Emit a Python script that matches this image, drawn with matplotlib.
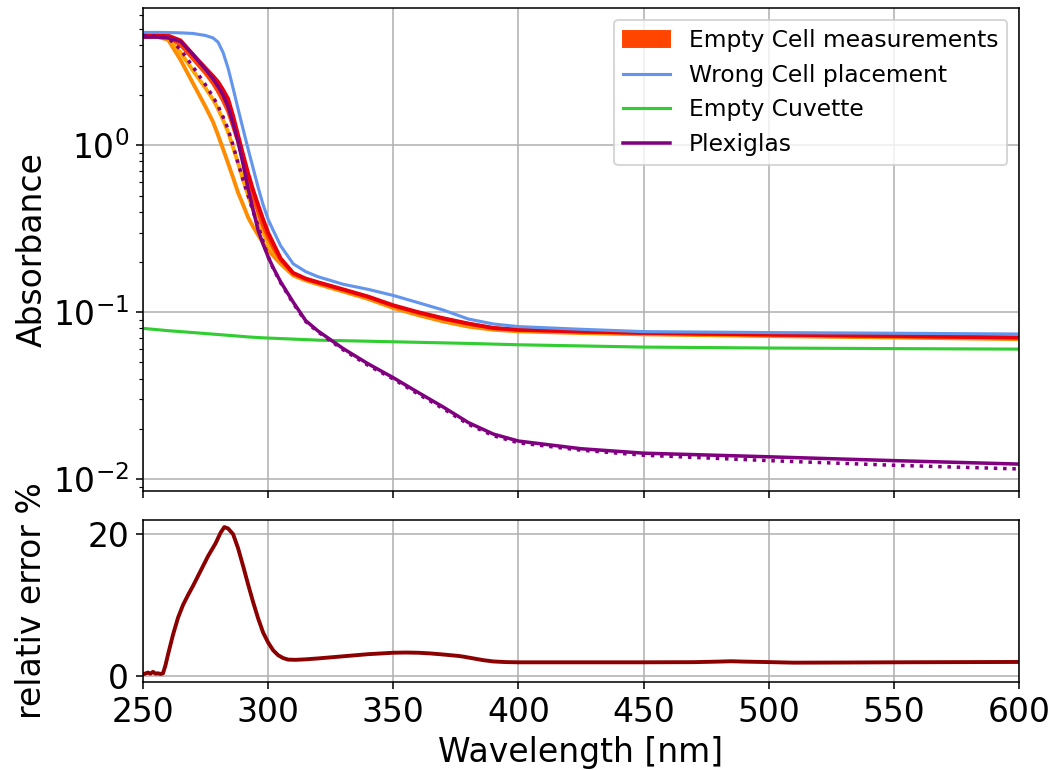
import matplotlib
matplotlib.use("Agg")
import matplotlib.pyplot as plt
from matplotlib.patches import Patch
from matplotlib.lines import Line2D

# Wavelength grid for absorbance spectra [nm]
wavelength = [250, 256, 260, 265, 270, 275, 278, 280, 282, 284, 286, 288, 290, 292, 294, 296, 298, 300,
              302, 305, 310, 315, 320, 330, 340, 350, 360, 370, 380, 390, 400, 425, 450, 500, 550, 600]

# Empty cell measurements (several repeats)
empty_cell_1 = [4.45, 4.45, 4.30, 3.25, 2.35, 1.70, 1.38, 1.15, 0.95, 0.78, 0.64, 0.52, 0.44, 0.37, 0.325, 0.29, 0.26, 0.235,
                0.218, 0.195, 0.166, 0.155, 0.147, 0.133, 0.120, 0.106, 0.096, 0.088, 0.082, 0.0785, 0.0768, 0.0750, 0.0737, 0.0720, 0.0705, 0.0690]
empty_cell_2 = [4.50, 4.50, 4.40, 3.60, 2.80, 2.20, 1.88, 1.65, 1.42, 1.20, 0.97, 0.78, 0.62, 0.50, 0.41, 0.35, 0.30, 0.260,
                0.235, 0.200, 0.168, 0.157, 0.149, 0.135, 0.122, 0.108, 0.098, 0.090, 0.084, 0.0795, 0.0778, 0.0760, 0.0746, 0.0729, 0.0714, 0.0700]
empty_cell_3 = [4.55, 4.55, 4.50, 4.00, 3.30, 2.70, 2.35, 2.10, 1.85, 1.60, 1.30, 1.05, 0.82, 0.62, 0.49, 0.40, 0.33, 0.280,
                0.245, 0.205, 0.170, 0.158, 0.150, 0.136, 0.123, 0.109, 0.099, 0.091, 0.085, 0.0800, 0.0782, 0.0763, 0.0749, 0.0732, 0.0717, 0.0703]
empty_cell_4 = [4.60, 4.60, 4.55, 4.25, 3.50, 2.90, 2.60, 2.40, 2.15, 1.90, 1.50, 1.15, 0.88, 0.68, 0.54, 0.44, 0.36, 0.300,
                0.260, 0.210, 0.172, 0.159, 0.151, 0.137, 0.124, 0.110, 0.100, 0.092, 0.0855, 0.0805, 0.0786, 0.0766, 0.0752, 0.0735, 0.0720, 0.0706]
empty_cell_series = [empty_cell_1, empty_cell_2, empty_cell_3, empty_cell_4]
empty_cell_colors = ["#ff8c00", "#ffa500", "#ff4500", "#e8000b"]

wrong_cell = [4.75, 4.75, 4.74, 4.72, 4.68, 4.55, 4.40, 4.15, 3.60, 2.90, 2.20, 1.65, 1.25, 0.95, 0.73, 0.56, 0.44, 0.360,
              0.310, 0.250, 0.195, 0.175, 0.163, 0.147, 0.137, 0.126, 0.114, 0.103, 0.091, 0.085, 0.082, 0.079, 0.0765, 0.0755, 0.0748, 0.0740]

empty_cuvette = [0.0800, 0.0785, 0.0775, 0.0765, 0.0755, 0.0745, 0.0739, 0.0735, 0.0731, 0.0727, 0.0723, 0.0719, 0.0715, 0.0711,
                 0.0708, 0.0705, 0.0702, 0.0700, 0.0698, 0.0695, 0.0690, 0.0685, 0.0680, 0.0675, 0.0670, 0.0665, 0.0660, 0.0655,
                 0.0650, 0.0644, 0.0638, 0.0628, 0.0618, 0.0610, 0.0605, 0.0601]

plexiglas = [4.45, 4.45, 4.40, 4.20, 3.50, 2.85, 2.50, 2.25, 2.00, 1.70, 1.35, 1.05, 0.77, 0.55, 0.41, 0.31, 0.255, 0.215,
             0.185, 0.152, 0.115, 0.089, 0.077, 0.0605, 0.0490, 0.0405, 0.0330, 0.0270, 0.0218, 0.0186, 0.0169, 0.0152,
             0.0143, 0.0136, 0.0129, 0.0123]
plexiglas_ref = [4.55, 4.50, 4.40, 3.75, 2.95, 2.30, 1.95, 1.72, 1.48, 1.25, 1.00, 0.78, 0.62, 0.50, 0.40, 0.33, 0.265, 0.215,
                 0.183, 0.150, 0.113, 0.088, 0.076, 0.0595, 0.0480, 0.0398, 0.0323, 0.0264, 0.0213, 0.0182, 0.0165, 0.0149,
                 0.0139, 0.0129, 0.0121, 0.0115]

# Relative error between the empty cell repeats [%]
error_wavelength = [250, 252, 253, 254, 255, 256, 257, 258, 259, 260, 262, 264, 266, 268, 270, 273, 276, 279,
                    281, 282.5, 284, 286, 288, 290, 292, 294, 296, 298, 300, 302, 304, 306, 308, 311, 315,
                    320, 330, 340, 350, 355, 360, 365, 370, 376, 378, 382, 386, 390, 395, 400, 450, 470, 480,
                    485, 490, 500, 510, 530, 550, 580, 600]
relative_error = [0.2, 0.45, 0.3, 0.55, 0.3, 0.35, 0.25, 0.35, 1.5, 3.0, 5.8, 8.2, 10.0, 11.4, 12.7, 14.8, 16.9, 18.7,
                  20.2, 21.0, 20.8, 20.0, 18.0, 15.5, 12.9, 10.4, 8.1, 6.1, 4.7, 3.6, 2.9, 2.5, 2.28, 2.25, 2.32,
                  2.45, 2.75, 3.05, 3.25, 3.28, 3.25, 3.15, 3.0, 2.8, 2.7, 2.45, 2.2, 2.02, 1.93, 1.9, 1.9, 1.92, 2.0,
                  2.05, 2.0, 1.93, 1.85, 1.87, 1.9, 1.93, 1.95]

x_ticks = [250, 300, 350, 400, 450, 500, 550, 600]

DPI = 140
fig = plt.figure(figsize=(1056 / DPI, 770 / DPI), dpi=DPI)
ax_top = fig.add_axes([0.1354, 0.3623, 0.8296, 0.6273])
ax_bot = fig.add_axes([0.1354, 0.1143, 0.8296, 0.2104], sharex=ax_top)

for values, color in zip(empty_cell_series, empty_cell_colors):
    ax_top.plot(wavelength, values, color=color, lw=2.0)
ax_top.plot(wavelength, wrong_cell, color="cornflowerblue", lw=1.6)
ax_top.plot(wavelength, empty_cuvette, color="limegreen", lw=1.6)
ax_top.plot(wavelength, plexiglas, color="purple", lw=1.8)
ax_top.plot(wavelength, plexiglas_ref, color="purple", lw=1.8, ls=":")

ax_top.set_yscale("log")
ax_top.set_ylim(0.00848, 6.65)
ax_top.set_xlim(250, 600)
ax_top.set_ylabel("Absorbance", fontsize=17)
ax_top.grid(True, which="major")
ax_top.tick_params(labelsize=17, labelbottom=False)

handles = [Patch(color="#ff4500", label="Empty Cell measurements"),
           Line2D([], [], color="cornflowerblue", lw=1.6, label="Wrong Cell placement"),
           Line2D([], [], color="limegreen", lw=1.6, label="Empty Cuvette"),
           Line2D([], [], color="purple", lw=1.8, label="Plexiglas")]
ax_top.legend(handles=handles, loc="upper right", fontsize=12)

ax_bot.plot(error_wavelength, relative_error, color="#8b0000", lw=2.0)
ax_bot.set_ylim(-0.88, 22.0)
ax_bot.set_xticks(x_ticks)
ax_bot.set_yticks([0, 20])
ax_bot.grid(True)
ax_bot.tick_params(labelsize=17)
ax_bot.set_xlabel("Wavelength [nm]", fontsize=17)
ax_bot.set_ylabel("relativ error %", fontsize=17)

# Put both y labels in the same column, left of the tick labels
ax_top.yaxis.set_label_coords(-0.108, 0.5)
ax_bot.yaxis.set_label_coords(-0.108, 0.5)

fig.savefig("out.png", dpi=DPI)
